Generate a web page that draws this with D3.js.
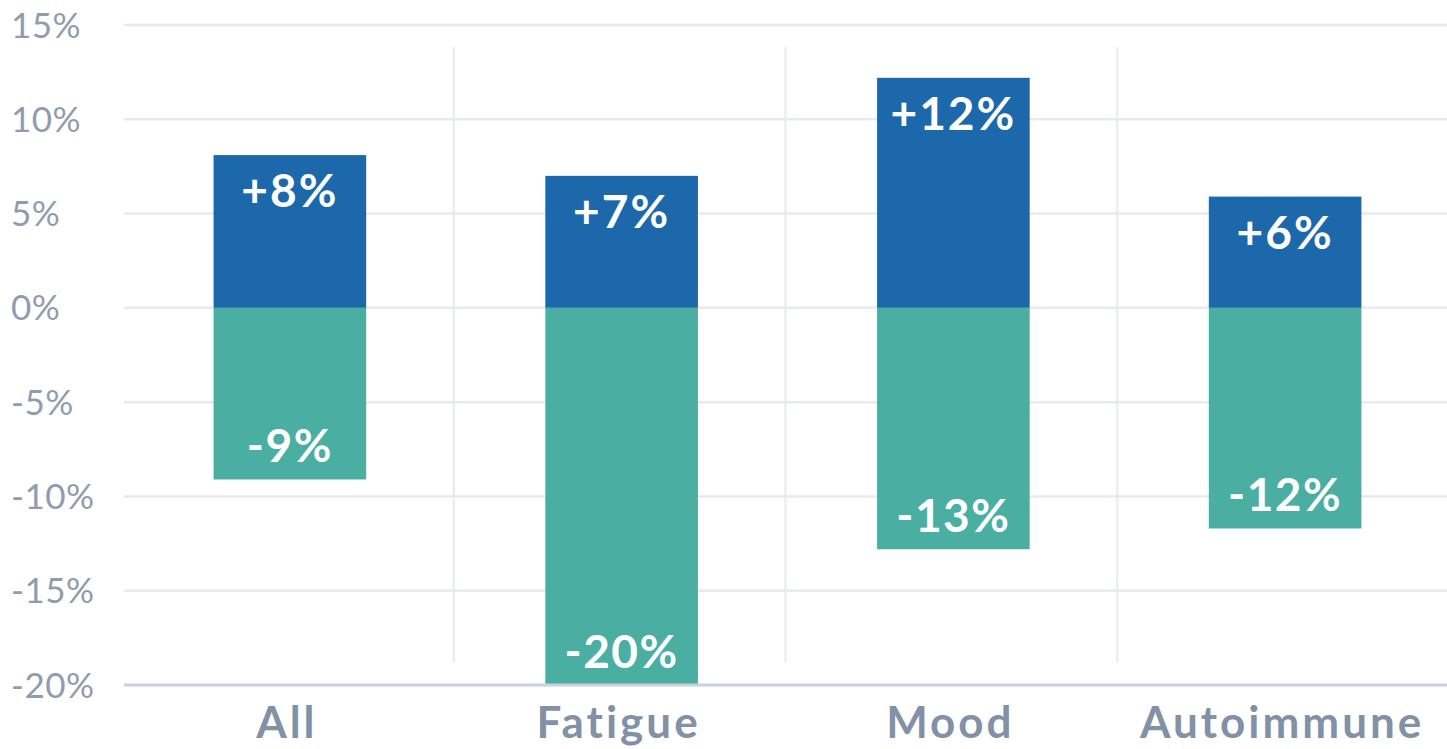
<!DOCTYPE html>
<html>
<head>
<meta charset="utf-8">
<script src="https://cdn.jsdelivr.net/npm/d3@7"></script>
<style>
  body { margin: 0; background: #fff; }
  svg { display: block; }
</style>
</head>
<body>
<svg id="chart" width="1447" height="749"></svg>
<script>
var categories = ["All", "Fatigue", "Mood", "Autoimmune"];
var upValues = [8.1, 7.0, 12.2, 5.9];
var downValues = [-9.1, -20, -12.8, -11.7];
var upLabels = ["+8%", "+7%", "+12%", "+6%"];
var downLabels = ["-9%", "-20%", "-13%", "-12%"];
var yTicks = [15, 10, 5, 0, -5, -10, -15, -20];

var svg = d3.select("#chart");

var x = d3.scaleBand()
  .domain(categories)
  .range([124, 1451])
  .paddingInner(0.54)
  .paddingOuter(0.27);

var y = d3.scaleLinear()
  .domain([-20, 15])
  .range([685, 25]);

var fontFam = "Lato, 'Open Sans', sans-serif";

// horizontal grid
svg.append("g").selectAll("line")
  .data(yTicks.filter(function(d){ return d !== -20; }))
  .enter().append("line")
  .attr("x1", 124).attr("x2", 1447)
  .attr("y1", function(d){ return y(d); })
  .attr("y2", function(d){ return y(d); })
  .style("stroke", "#e7eaf2")
  .style("stroke-width", 2.5);

// vertical separators between categories
var step = x.step();
svg.append("g").selectAll("line")
  .data(categories.slice(1))
  .enter().append("line")
  .attr("x1", function(d){ return x(d) - step * x.paddingInner() / 2 - 2; })
  .attr("x2", function(d){ return x(d) - step * x.paddingInner() / 2 - 2; })
  .attr("y1", y(13.85))
  .attr("y2", y(-18.8))
  .style("stroke", "#e7eaf2")
  .style("stroke-width", 2);

// y tick labels
svg.append("g").selectAll("text")
  .data(yTicks)
  .enter().append("text")
  .attr("x", 11)
  .attr("y", function(d){ return y(d); })
  .attr("dy", "0.36em")
  .text(function(d){ return d + "%"; })
  .style("font-family", fontFam)
  .style("font-size", "35px")
  .style("letter-spacing", "0.5px")
  .style("fill", "#909cae");

// bars
var rows = categories.map(function(c, i){
  return { cat: c, up: upValues[i], down: downValues[i], upLabel: upLabels[i], downLabel: downLabels[i] };
});

var bars = svg.append("g");

bars.selectAll("rect.up")
  .data(rows).enter().append("rect")
  .attr("class", "up")
  .attr("x", function(d){ return x(d.cat); })
  .attr("width", x.bandwidth())
  .attr("y", function(d){ return y(d.up); })
  .attr("height", function(d){ return y(0) - y(d.up); })
  .style("fill", "#1c68aa");

bars.selectAll("rect.down")
  .data(rows).enter().append("rect")
  .attr("class", "down")
  .attr("x", function(d){ return x(d.cat); })
  .attr("width", x.bandwidth())
  .attr("y", y(0))
  .attr("height", function(d){ return y(d.down) - y(0); })
  .style("fill", "#4baea3");

bars.selectAll("text.uplab")
  .data(rows).enter().append("text")
  .attr("class", "uplab")
  .attr("x", function(d){ return x(d.cat) + x.bandwidth() / 2; })
  .attr("y", function(d){ return y(d.up) + 52; })
  .attr("text-anchor", "middle")
  .text(function(d){ return d.upLabel; })
  .style("font-family", fontFam)
  .style("font-size", "46px")
  .style("font-weight", "700")
  .style("letter-spacing", "2px")
  .style("fill", "#ffffff");

bars.selectAll("text.downlab")
  .data(rows).enter().append("text")
  .attr("class", "downlab")
  .attr("x", function(d){ return x(d.cat) + x.bandwidth() / 2; })
  .attr("y", function(d){ return y(d.down) - 17; })
  .attr("text-anchor", "middle")
  .text(function(d){ return d.downLabel; })
  .style("font-family", fontFam)
  .style("font-size", "46px")
  .style("font-weight", "700")
  .style("letter-spacing", "1.5px")
  .style("fill", "#ffffff");

// baseline at bottom
svg.append("line")
  .attr("x1", 124).attr("x2", 1447)
  .attr("y1", y(-20)).attr("y2", y(-20))
  .style("stroke", "#c9d2de")
  .style("stroke-width", 3);

// category labels
svg.append("g").selectAll("text")
  .data(categories)
  .enter().append("text")
  .attr("x", function(d){ return x(d) + x.bandwidth() / 2 - 3; })
  .attr("y", 738)
  .attr("text-anchor", "middle")
  .text(function(d){ return d; })
  .style("font-family", fontFam)
  .style("font-size", "44px")
  .style("font-weight", "700")
  .style("letter-spacing", "3px")
  .style("fill", "#8291a6");
</script>
</body>
</html>
